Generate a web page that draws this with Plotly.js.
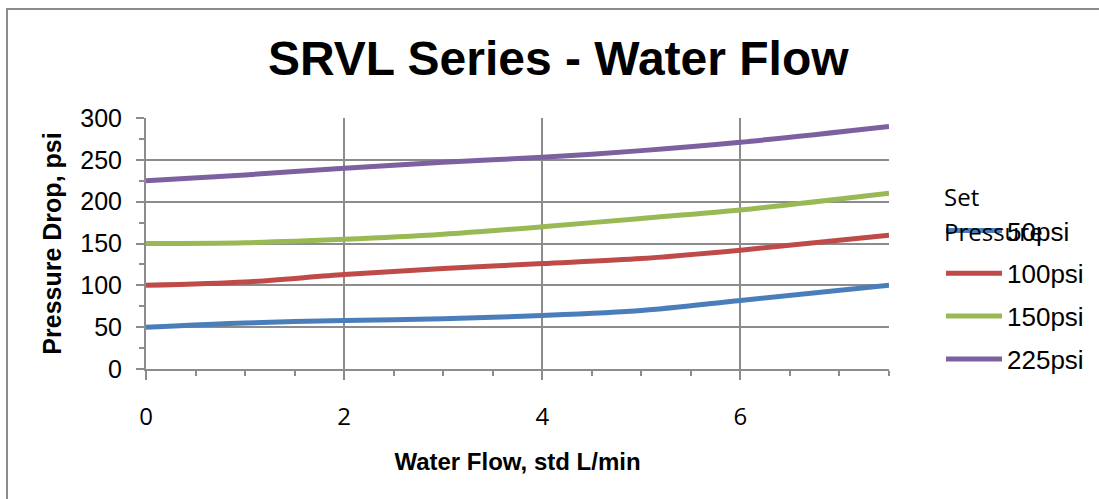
<!DOCTYPE html>
<html>
<head>
<meta charset="utf-8">
<script src="https://cdn.plot.ly/plotly-3.0.1.min.js"></script>
<style>
  html, body { margin: 0; padding: 0; background: #fff; }
  #frame { position: absolute; left: 6px; top: 8px; width: 1200px; height: 600px;
           border-left: 2px solid #8c8c8c; border-top: 2px solid #8c8c8c; }
  #chart { position: absolute; left: 0; top: 0; width: 1099px; height: 499px; }
</style>
</head>
<body>
<div id="frame"></div>
<div id="chart"></div>
<script>
// Data
const flow = [0, 1, 2, 3, 4, 5, 6, 7.5];
const p50  = [50, 55, 58, 60, 64, 70, 82, 100];
const p100 = [100, 104, 113, 120, 126, 132, 142, 160];
const p150 = [150, 151, 155, 161, 170, 180, 190, 210];
const p225 = [225, 232, 240, 247, 253, 261, 271, 290];
const seriesNames = ['50psi', '100psi', '150psi', '225psi'];
const seriesColors = ['#4a7ebb', '#be4b48', '#98b954', '#7d60a0'];
const seriesValues = [p50, p100, p150, p225];

const traces = seriesValues.map((vals, i) => ({
  x: flow, y: vals, type: 'scatter', mode: 'lines',
  name: seriesNames[i], legendgroup: 'g' + i,
  line: { color: seriesColors[i], width: 5, shape: 'spline', smoothing: 0.8 }
}));

const ARIAL = '"Liberation Sans", Arial, sans-serif';
const CAL = '"Open Sans", "Noto Sans", sans-serif';
const grid = '#8c8c8c';
const layout = {
  width: 1099, height: 499,
  paper_bgcolor: 'rgba(0,0,0,0)', plot_bgcolor: 'rgba(0,0,0,0)',
  margin: { l: 146, r: 210, t: 118, b: 130, autoexpand: false },
  title: { text: 'SRVL Series - Water Flow', x: 0.508, xanchor: 'center', y: 0.884, yanchor: 'middle',
           font: { family: ARIAL, size: 48, color: '#000', weight: 'bold' } },
  xaxis: {
    range: [0, 7.5], dtick: 2, tick0: 0, showgrid: true, gridcolor: grid, gridwidth: 2,
    showline: true, linecolor: grid, linewidth: 2, zeroline: false, automargin: false,
    ticks: 'outside', ticklen: 9, tickwidth: 2, tickcolor: grid,
    minor: { dtick: 0.5, ticks: 'outside', ticklen: 5, tickwidth: 2, tickcolor: grid, showgrid: false },
    ticklabelstandoff: 16,
    tickfont: { family: CAL, size: 24, color: '#000' },
    title: { text: 'Water Flow, std L/min', standoff: 22,
             font: { family: ARIAL, size: 24, color: '#000', weight: 'bold' } }
  },
  yaxis: {
    range: [0, 300], dtick: 50, showgrid: true, gridcolor: grid, gridwidth: 2,
    showline: true, linecolor: grid, linewidth: 2, zeroline: false, automargin: false,
    ticks: 'outside', ticklen: 8, tickwidth: 2, tickcolor: grid,
    minor: { dtick: 25, ticks: 'outside', ticklen: 5, tickwidth: 2, tickcolor: grid, showgrid: false },
    ticklabelstandoff: 9,
    tickfont: { family: ARIAL, size: 25, color: '#000' },
    title: { text: 'Pressure Drop, psi', standoff: 12,
             font: { family: ARIAL, size: 25, color: '#000', weight: 'bold' } }
  },
  showlegend: true,
  legend: {
    x: 1.070, xanchor: 'left', y: 0.645, yanchor: 'top',
    itemwidth: 56, tracegroupgap: 6, bgcolor: 'rgba(0,0,0,0)',
    font: { family: ARIAL, size: 26, color: '#000' }
  },
  annotations: [
    { text: 'Set', xref: 'paper', yref: 'paper', x: 1.072, y: 0.688, xanchor: 'left', yanchor: 'middle',
      showarrow: false, font: { family: CAL, size: 24, color: '#000' } },
    { text: 'Pressure', xref: 'paper', yref: 'paper', x: 1.072, y: 0.548, xanchor: 'left', yanchor: 'middle',
      showarrow: false, font: { family: CAL, size: 24, color: '#000' } }
  ]
};

Plotly.newPlot('chart', traces, layout, { displayModeBar: false, staticPlot: true });
</script>
</body>
</html>
